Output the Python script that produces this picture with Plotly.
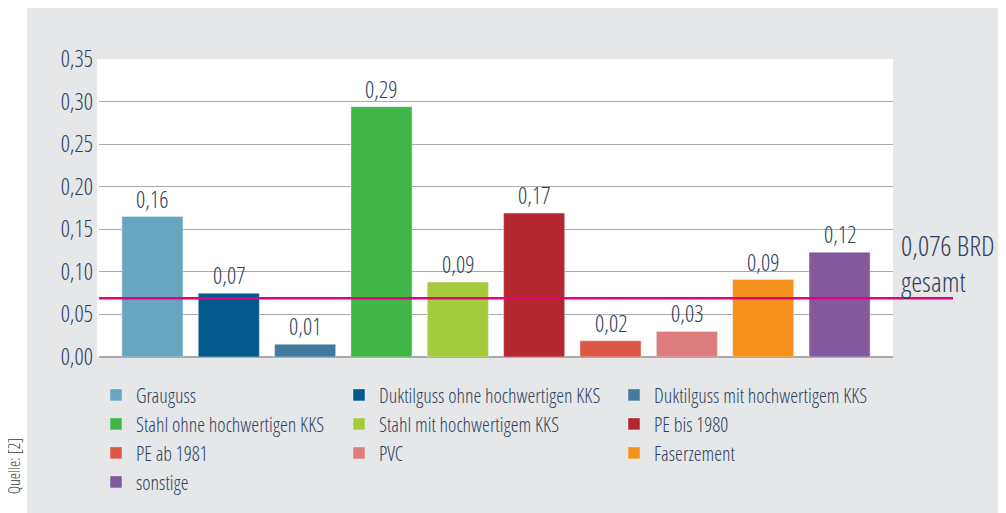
import plotly.graph_objects as go

categories = ["Grauguss", "Duktilguss ohne hochwertigen KKS", "Duktilguss mit hochwertigem KKS",
              "Stahl ohne hochwertigen KKS", "Stahl mit hochwertigem KKS", "PE bis 1980",
              "PE ab 1981", "PVC", "Faserzement", "sonstige"]
values = [0.165, 0.075, 0.015, 0.294, 0.088, 0.169, 0.019, 0.030, 0.091, 0.123]
value_labels = ["0,16", "0,07", "0,01", "0,29", "0,09", "0,17", "0,02", "0,03", "0,09", "0,12"]
colors = ["#68A5BF", "#025A8C", "#427A9E", "#42B549", "#A5CA3A", "#B5272E",
          "#DC5844", "#DE7D7E", "#F5921E", "#83589D"]
legend_columns = ["legend", "legend2", "legend3", "legend", "legend2", "legend3",
                  "legend", "legend2", "legend3", "legend"]
reference_value = 0.069
reference_label = "0,076 BRD<br>gesamt"
y_ticks = [0.00, 0.05, 0.10, 0.15, 0.20, 0.25, 0.30, 0.35]
y_tick_labels = ["0,00", "0,05", "0,10", "0,15", "0,20", "0,25", "0,30", "0,35"]
source_label = "Quelle: [2]"

TXT = "#2F3F5E"
FAM = "Open Sans Condensed Light, Roboto, sans-serif"
F_TICK = dict(family=FAM, color=TXT, size=23)
F_VAL = dict(family=FAM, color=TXT, size=23)
F_LEG = dict(family=FAM, color=TXT, size=20)
F_REF = dict(family=FAM, color=TXT, size=28)

OFF = 8  # page body margin
W, H = 1006 - OFF, 513 - OFF
ML, MT = 99 - OFF, 59 - OFF
MR = W - (893 - OFF)
MB = H - (367 - OFF)
PW, PH = W - ML - MR, H - MT - MB


def px_x(px):
    return (px - OFF - ML) / PW


def px_y(py):
    return (H - MB - (py - OFF)) / PH


fig = go.Figure()
for cat, val, col, leg in zip(categories, values, colors, legend_columns):
    fig.add_trace(go.Bar(x=[cat], y=[val], name=cat, marker_color=col, width=0.8,
                         legend=leg, hoverinfo="skip"))

for cat, val, lab in zip(categories, values, value_labels):
    fig.add_annotation(x=cat, y=val, text=lab, showarrow=False, yanchor="bottom",
                       yshift=0, font=F_VAL)

# background panels
fig.add_shape(type="rect", xref="paper", yref="paper", x0=px_x(27), x1=1.3,
              y0=-0.8, y1=1.5, fillcolor="#E6E7E8", line_width=0, layer="below")
fig.add_shape(type="rect", xref="paper", yref="paper", x0=px_x(97), x1=1,
              y0=0, y1=1, fillcolor="#FFFFFF", line_width=0, layer="below")

# reference line
fig.add_shape(type="line", xref="paper", yref="y", x0=0, x1=px_x(953),
              y0=reference_value, y1=reference_value,
              line=dict(color="#E5007D", width=2.5), layer="above")
fig.add_annotation(xref="paper", yref="y", x=px_x(899), y=reference_value,
                   text=reference_label, showarrow=False, xanchor="left", yanchor="bottom",
                   align="left", yshift=-4, font=F_REF)

fig.add_annotation(xref="paper", yref="paper", x=px_x(14), y=px_y(480), text=source_label,
                   showarrow=False, textangle=-90, xanchor="center", yanchor="middle",
                   font=dict(size=16, color="#3A3A3A", family=FAM))

legend_common = dict(yanchor="top", xanchor="left", y=px_y(386), bgcolor="rgba(0,0,0,0)",
                     font=F_LEG, orientation="v", traceorder="normal")
fig.update_layout(
    width=W, height=H,
    margin=dict(l=ML, r=MR, t=MT, b=MB),
    paper_bgcolor="#FFFFFF", plot_bgcolor="#FFFFFF",
    font=dict(family=FAM, color=TXT),
    showlegend=True,
    legend=dict(x=px_x(96), **legend_common),
    legend2=dict(x=px_x(339), **legend_common),
    legend3=dict(x=px_x(614), **legend_common),
    xaxis=dict(type="category", categoryorder="array", categoryarray=categories,
               range=[-0.7, 9.7], showticklabels=False, showgrid=False, zeroline=False,
               showline=False, ticks=""),
    yaxis=dict(range=[0, 0.35], tickvals=y_ticks, ticktext=y_tick_labels,
               showgrid=True, gridcolor="#A7A9AC", gridwidth=1.3, zeroline=True,
               zerolinecolor="#A7A9AC", zerolinewidth=1.5, ticks="", showline=False,
               ticklabelstandoff=5, tickfont=F_TICK),
)

fig.write_html("out.html")
